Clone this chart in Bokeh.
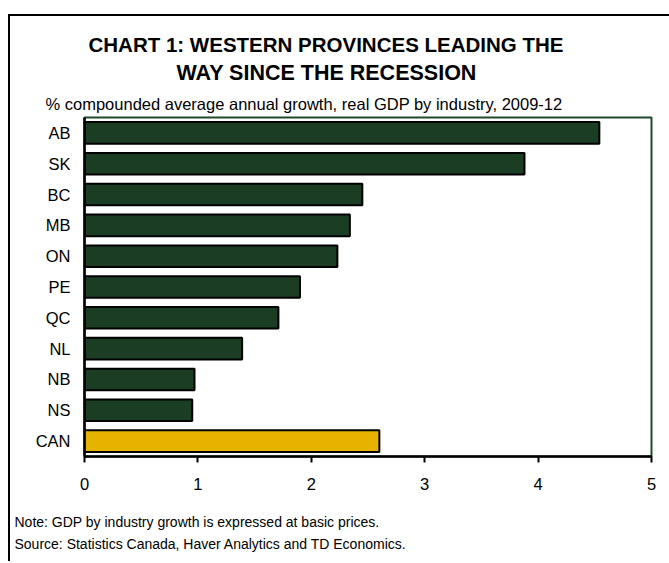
from bokeh.plotting import figure
from bokeh.layouts import column
from bokeh.models import Title, FactorRange, Range1d, ColumnDataSource, FixedTicker
from bokeh.embed import file_html
from bokeh.resources import INLINE

provinces = ["AB", "SK", "BC", "MB", "ON", "PE", "QC", "NL", "NB", "NS", "CAN"]
growth = [4.54, 3.88, 2.45, 2.34, 2.23, 1.90, 1.71, 1.39, 0.97, 0.95, 2.60]
bar_colors = ["#1a3d24"] * 10 + ["#e6b400"]
x_ticks = [0, 1, 2, 3, 4, 5]

title_lines = ["CHART 1: WESTERN PROVINCES LEADING THE", "WAY SINCE THE RECESSION"]
subtitle = "% compounded average annual growth, real GDP by industry, 2009-12"
notes = ["Note: GDP by industry growth is expressed at basic prices.",
         "Source: Statistics Canada, Haver Analytics and TD Economics."]

FONT = "Liberation Sans"
W = 669
H_MAIN = 509
H_NOTES = 52
FRAME_L, FRAME_R, FRAME_T, FRAME_B = 84, 651, 117, 456
FL, FR, FT, FB = FRAME_L, W - FRAME_R, FRAME_T, H_MAIN - FRAME_B

src = ColumnDataSource(dict(cat=provinces, val=growth, color=bar_colors))

p = figure(width=W, height=H_MAIN, output_backend="svg", toolbar_location=None,
           y_range=FactorRange(*reversed(provinces)), x_range=Range1d(0, 5),
           min_border_left=FL, min_border_right=FR, min_border_top=FT, min_border_bottom=FB)
p.border_fill_color = None
p.background_fill_color = "white"

p.hbar(y="cat", right="val", left=0, height=0.7, source=src, fill_color="color",
       line_color="black", line_width=2)

p.xgrid.visible = False
p.ygrid.visible = False
p.outline_line_color = "#1e4a2a"
p.outline_line_width = 2

xa = p.xaxis[0]
xa.ticker = FixedTicker(ticks=x_ticks)
xa.axis_line_color = "black"
xa.axis_line_width = 2.5
xa.major_tick_line_width = 2
xa.major_tick_out = 6
xa.major_tick_in = 0
xa.minor_tick_line_color = None
xa.major_label_text_font = FONT
xa.major_label_text_font_size = "16.5px"
xa.major_label_text_color = "black"
xa.major_label_standoff = 15

ya = p.yaxis[0]
ya.axis_line_color = "black"
ya.axis_line_width = 2.5
ya.major_tick_line_color = None
ya.minor_tick_line_color = None
ya.major_label_text_font = FONT
ya.major_label_text_font_size = "16.5px"
ya.major_label_text_color = "black"
ya.major_label_standoff = 8

def title(text, size, page_x, standoff, bold=False):
    return Title(text=text, text_font=FONT, text_font_size=size, text_color="black",
                 text_font_style="bold" if bold else "normal", align="left",
                 offset=page_x - FRAME_L, standoff=standoff)

# above: first added is nearest the frame
p.add_layout(title(subtitle, "16.5px", 45, 10), "above")
p.add_layout(title(title_lines[1], "21.5px", 176, 5, bold=True), "above")
p.add_layout(title(title_lines[0], "20.5px", 88, 2, bold=True), "above")

# notes strip below the chart (titles stacked above an empty frame)
nf = figure(width=W, height=H_NOTES, output_backend="svg", toolbar_location=None,
            x_range=Range1d(0, 1), y_range=Range1d(0, 1),
            x_axis_location=None, y_axis_location=None,
            min_border_left=FL, min_border_right=FR, min_border_top=0, min_border_bottom=0)
nf.grid.visible = False
nf.outline_line_color = None
nf.border_fill_color = None
nf.background_fill_color = None
nf.add_layout(title(notes[1], "14px", 14, 2.8), "above")
nf.add_layout(title(notes[0], "14px", 14, 4.8), "above")

# outer frame line (left and top) drawn as layered inset shadows
layout = column(p, nf, spacing=0,
                styles={"box-shadow": "inset 8px 14px 0 0 white, inset 10px 16px 0 0 black",
                        "background-color": "white"})

open("out.html", "w").write(file_html(layout, INLINE))
